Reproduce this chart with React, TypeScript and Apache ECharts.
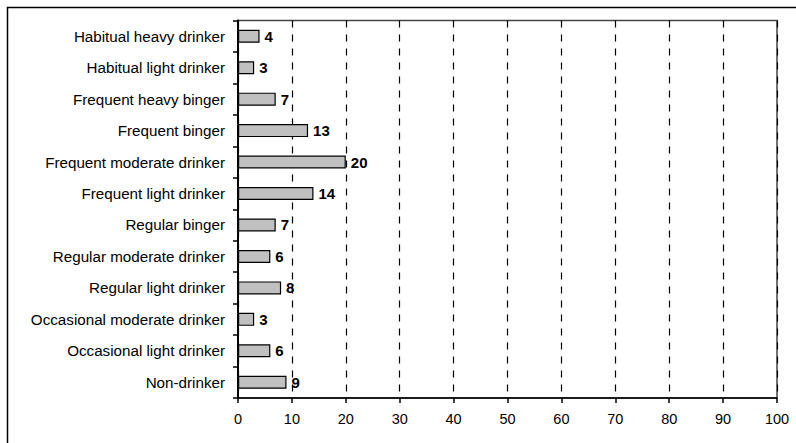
import React, { useEffect, useRef } from "react";
import * as echarts from "echarts";

const categories = [
  "Habitual heavy drinker",
  "Habitual light drinker",
  "Frequent heavy binger",
  "Frequent binger",
  "Frequent moderate drinker",
  "Frequent light drinker",
  "Regular binger",
  "Regular moderate drinker",
  "Regular light drinker",
  "Occasional moderate drinker",
  "Occasional light drinker",
  "Non-drinker",
];
const values = [4, 3, 7, 13, 20, 14, 7, 6, 8, 3, 6, 9];
const xMin = 0;
const xMax = 100;
const xInterval = 10;

const FONT = "'Liberation Sans', Arial, Helvetica, sans-serif";

export default function App() {
  const ref = useRef<HTMLDivElement>(null);
  useEffect(() => {
    if (!ref.current) return;
    const chart = echarts.init(ref.current, undefined, { renderer: "svg" });
    chart.setOption({
      animation: false,
      backgroundColor: "#ffffff",
      textStyle: { fontFamily: FONT },
      graphic: [
        {
          type: "rect",
          shape: { x: 7.5, y: 7.5, width: 800, height: 450 },
          style: { fill: "none", stroke: "#000", lineWidth: 1.5 },
          silent: true,
          z: -1,
        },
      ],
      grid: {
        left: 238,
        right: 19,
        top: 20.5,
        bottom: 45,
        show: true,
        borderColor: "#444",
        borderWidth: 1.5,
        backgroundColor: "transparent",
      },
      xAxis: {
        type: "value",
        min: xMin,
        max: xMax,
        interval: xInterval,
        axisLine: { show: true, lineStyle: { color: "#000", width: 1.5 } },
        axisTick: { show: true, length: 5, lineStyle: { color: "#000", width: 1.5 } },
        axisLabel: { color: "#000", fontSize: 14.5, fontFamily: FONT, margin: 13 },
        splitLine: {
          show: true,
          lineStyle: { color: "#000", type: [7, 7], width: 1.2 },
        },
      },
      yAxis: {
        type: "category",
        data: categories,
        inverse: true,
        axisLine: { show: true, lineStyle: { color: "#000", width: 2 } },
        axisTick: { show: true, length: 5, lineStyle: { color: "#000", width: 1.5 } },
        axisLabel: { color: "#000", fontSize: 15.2, fontFamily: FONT, margin: 13 },
        splitLine: { show: false },
      },
      series: [
        {
          type: "bar",
          data: values,
          barWidth: 13,
          itemStyle: { color: "#c0c0c0", borderColor: "#000", borderWidth: 1.2 },
          label: {
            show: true,
            position: "right",
            distance: 5,
            color: "#000",
            fontWeight: "bold",
            fontSize: 15,
            fontFamily: FONT,
          },
        },
      ],
    });
    return () => chart.dispose();
  }, []);
  return <div ref={ref} style={{ width: 796, height: 443, position: "absolute", left: 0, top: 0 }} />;
}
